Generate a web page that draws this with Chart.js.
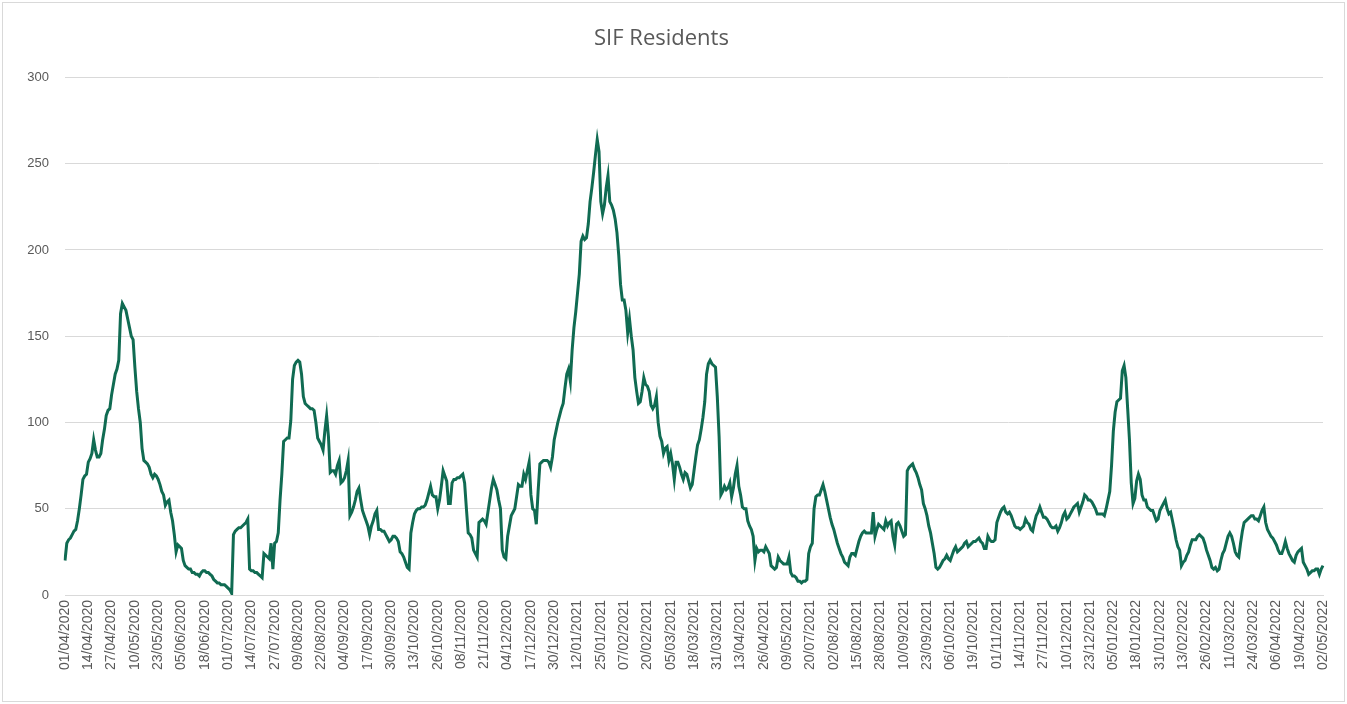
<!DOCTYPE html>
<html>
<head>
<meta charset="utf-8">
<title>SIF Residents</title>
<script src="https://cdn.jsdelivr.net/npm/chart.js@4.4.1/dist/chart.umd.min.js"></script>
<style>
  html, body { margin: 0; padding: 0; background: #fff; }
  #wrap { width: 1347px; height: 704px; }
</style>
</head>
<body>
<div id="wrap"><canvas id="myChart" width="1347" height="704"></canvas></div>
<script>
// daily SIF residents (one row = 13 days)
const residents = [
  20,30,32,33,35,37,38,43,50,58,67,69,70,
  77,79,82,90,84,80,80,82,90,96,104,107,108,
  116,122,128,131,136,163,169,167,165,160,155,150,148,
  132,118,108,100,85,78,77,76,74,70,68,70,69,
  67,64,60,58,52,54,55,48,43,35,25,29,28,
  27,20,17,16,15,15,13,13,12,12,11,13,14,
  14,13,13,12,11,9,8,7,7,6,6,6,5,
  4,3,1,35,37,38,39,39,40,41,42,44,15,
  14,14,13,13,12,11,10,24,23,22,21,30,15,
  30,31,36,55,70,89,90,91,91,101,125,133,135,
  136,135,128,115,111,110,109,108,108,107,100,91,89,
  87,84,95,104,92,71,72,72,70,75,78,65,66,
  68,72,78,46,48,51,55,60,62,55,49,46,43,
  40,35,40,43,47,49,38,38,37,37,35,33,31,
  32,34,34,33,31,25,24,22,19,16,15,36,42,
  47,49,50,50,51,51,52,55,59,63,58,57,57,
  50,55,63,72,69,66,53,53,65,67,67,68,68,
  69,70,65,50,36,35,33,26,24,22,42,43,44,
  43,41,48,55,62,67,64,61,55,50,26,22,21,
  34,40,46,48,50,57,64,63,63,70,67,72,77,
  58,50,49,41,60,76,77,78,78,78,77,74,80,
  90,95,100,104,108,111,120,128,131,124,142,155,164,
  175,186,205,208,206,207,215,228,236,245,255,264,257,
  228,221,226,236,243,228,226,223,218,210,197,180,171,
  171,165,152,160,150,142,126,118,111,112,118,126,122,
  121,118,110,108,110,115,100,92,89,82,85,86,78,
  82,76,67,77,77,74,70,67,71,70,66,62,64,
  72,80,87,90,96,103,112,128,134,136,134,133,132,
  115,92,58,60,63,61,62,65,57,62,70,75,63,
  58,51,50,50,43,40,38,34,20,27,25,26,26,
  25,28,26,24,17,16,15,16,22,20,19,18,18,
  18,22,13,11,11,10,8,8,7,8,8,9,24,
  28,30,50,57,58,58,61,64,60,55,50,45,41,
  38,34,30,27,24,22,19,18,17,22,24,24,23,
  27,31,34,36,37,36,36,36,36,48,34,38,41,
  40,39,38,43,40,42,43,34,29,41,42,40,37,
  34,35,72,74,75,76,73,71,68,64,61,53,50,
  46,40,36,30,24,16,15,16,18,20,21,23,21,
  20,23,26,28,25,26,27,28,30,31,28,29,30,
  31,31,32,33,31,30,27,27,34,32,31,31,32,
  42,45,48,50,51,48,47,48,46,43,40,39,39,
  38,39,40,44,42,41,38,37,42,46,48,51,48,
  45,45,44,42,40,39,39,40,37,39,42,46,48,
  44,45,47,49,51,52,53,48,51,54,58,57,55,
  55,54,52,50,47,47,47,47,46,50,55,60,75,
  95,106,112,113,114,130,133,126,108,90,65,53,56,
  66,70,67,58,55,55,51,50,49,49,46,43,44,
  49,51,53,55,50,47,48,43,38,32,28,26,17,
  19,20,23,25,29,32,32,32,34,35,34,33,30,
  26,23,20,16,15,16,14,15,20,24,26,30,34,
  36,34,30,25,23,22,30,37,42,43,44,45,46,
  46,44,44,43,46,49,51,42,38,36,34,33,31,
  29,26,24,24,27,31,27,24,22,20,19,23,25,
  26,27,19,17,15,12,13,14,14,15,15,12,15,
  17
];

// the dates come in two runs (no rows between late May and 20 July 2021)
const runStarts = ['2020-04-01', '2021-07-20'];
const runLengths = [416, 287];
const yTicks = [0, 50, 100, 150, 200, 250, 300];
const tickEvery = 13;

const pad = (n) => String(n).padStart(2, '0');
const labels = [];
runStarts.forEach((start, r) => {
  const d = new Date(start + 'T00:00:00Z');
  for (let i = 0; i < runLengths[r]; i++) {
    labels.push(pad(d.getUTCDate()) + '/' + pad(d.getUTCMonth() + 1) + '/' + d.getUTCFullYear());
    d.setUTCDate(d.getUTCDate() + 1);
  }
});

const textColor = '#595959';
const gridColor = '#d9d9d9';

// thin frame round the whole chart, like the exported picture
const frame = {
  id: 'frame',
  afterDraw(chart) {
    const c = chart.ctx;
    c.save();
    c.strokeStyle = gridColor;
    c.lineWidth = 1;
    c.strokeRect(2.5, 2.5, chart.width - 5, chart.height - 5);
    c.restore();
  }
};

const ctx = document.getElementById('myChart').getContext('2d');
new Chart(ctx, {
  type: 'line',
  data: {
    labels: labels,
    datasets: [{
      label: 'SIF Residents',
      data: residents,
      borderColor: '#106b52',
      borderWidth: 3,
      pointRadius: 0,
      tension: 0,
      fill: false
    }]
  },
  options: {
    responsive: false,
    animation: false,
    layout: { padding: { left: 0, right: 24, top: 0, bottom: 0 } },
    plugins: {
      legend: { display: false },
      tooltip: { enabled: false },
      title: {
        display: true,
        text: 'SIF Residents',
        color: textColor,
        font: { family: 'Open Sans', size: 22, weight: 'normal' },
        padding: { top: 26, bottom: 25 }
      }
    },
    scales: {
      x: {
        grid: { display: false, drawTicks: false },
        border: { color: gridColor },
        ticks: {
          autoSkip: false,
          minRotation: 90,
          maxRotation: 90,
          padding: 5,
          color: textColor,
          font: { family: 'Liberation Sans', size: 14 },
          callback: (v, i) => (i % tickEvery === 0 ? labels[i] : null)
        },
        afterFit: (scale) => { scale.height = 109; }
      },
      y: {
        min: 0,
        max: 300,
        afterBuildTicks: (scale) => { scale.ticks = yTicks.map((v) => ({ value: v })); },
        grid: { color: gridColor, drawTicks: false },
        border: { display: false },
        ticks: {
          padding: 16,
          color: textColor,
          font: { family: 'Liberation Sans', size: 13 }
        },
        afterFit: (scale) => { scale.width = 65; }
      }
    }
  },
  plugins: [frame]
});
</script>
</body>
</html>
